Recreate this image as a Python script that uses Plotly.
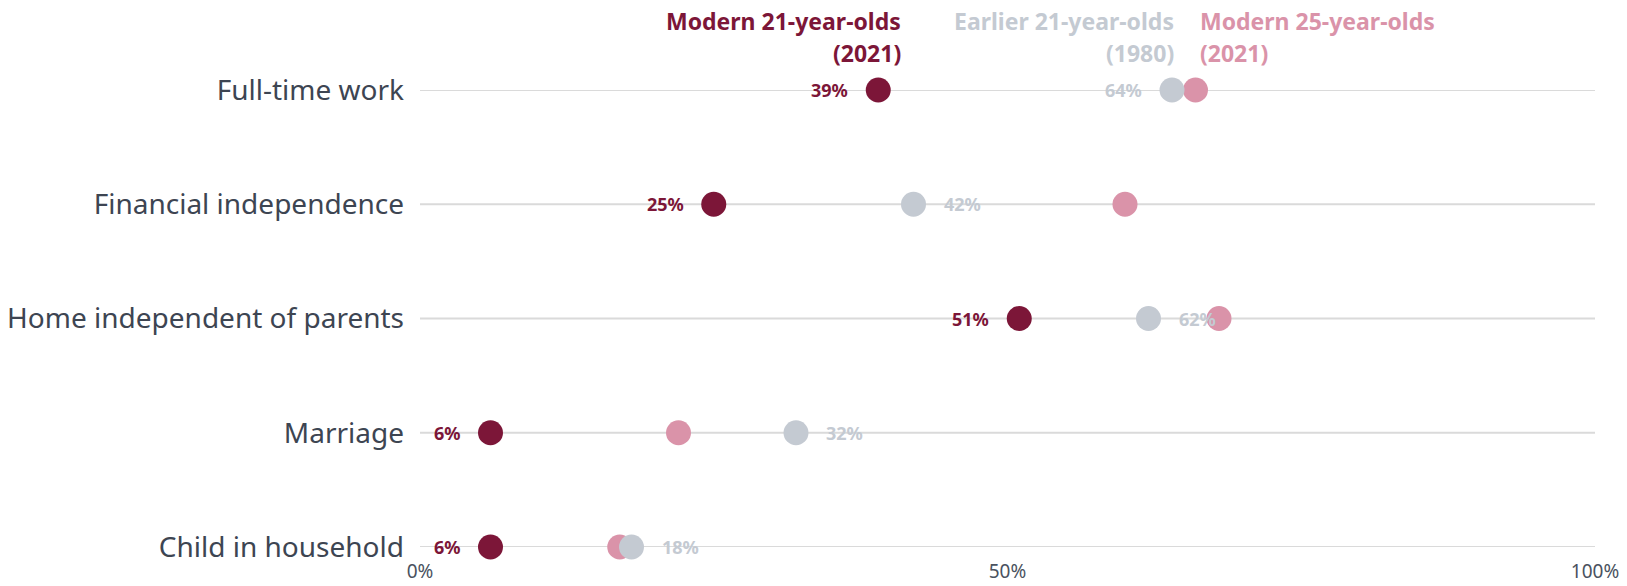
import plotly.graph_objects as go

# Milestones reached, share of each group (%)
milestones = ["Full-time work", "Financial independence", "Home independent of parents",
              "Marriage", "Child in household"]
modern_21 = [39, 25, 51, 6, 6]
earlier_21 = [64, 42, 62, 32, 18]
modern_25 = [66, 60, 68, 22, 17]

series_names = ["Modern 21-year-olds (2021)", "Earlier 21-year-olds (1980)", "Modern 25-year-olds (2021)"]
header_lines = [["Modern 21-year-olds", "(2021)"],
                ["Earlier 21-year-olds", "(1980)"],
                ["Modern 25-year-olds", "(2021)"]]

x_ticks = [0, 50, 100]
x_tick_text = ["0%", "50%", "100%"]

C_M21 = "#7c1638"
C_E21 = "#c4cad2"
C_M25 = "#da93a9"
FONT = "Noto Sans"

rows = list(range(len(milestones)))

fig = go.Figure()

# row guide lines across the full axis
shapes = [dict(type="line", xref="x", yref="y", x0=0, x1=100, y0=r, y1=r,
               line=dict(color="#dadada", width=2), layer="below") for r in rows]

for name, vals, col in [(series_names[2], modern_25, C_M25),
                        (series_names[1], earlier_21, C_E21),
                        (series_names[0], modern_21, C_M21)]:
    fig.add_trace(go.Scatter(
        x=vals, y=rows, mode="markers", name=name,
        marker=dict(size=25, color=col, line=dict(width=0)),
        cliponaxis=False, showlegend=False,
        hovertemplate="%{x}%<extra>" + name + "</extra>",
    ))

annotations = []
# value labels: modern 21 on the left of its dot
for i, v in enumerate(modern_21):
    annotations.append(dict(x=v, y=i, xref="x", yref="y", text=f"{v}%",
                            showarrow=False, xanchor="right", yanchor="middle",
                            xshift=-28, font=dict(family=FONT, size=18, color=C_M21,
                                                  weight="bold")))
# earlier 21 labels to the right, except the top row which sits to the left
for i, v in enumerate(earlier_21):
    left = i == 0
    annotations.append(dict(x=v, y=i, xref="x", yref="y", text=f"{v}%",
                            showarrow=False, xanchor="right" if left else "left",
                            yanchor="middle", xshift=-28 if left else 28,
                            font=dict(family=FONT, size=18, color=C_E21, weight="bold")))

# series headers above the top row
header_cfg = [(modern_21[0], C_M21, "right", 25),
              (earlier_21[0], C_E21, "right", 4),
              (modern_25[0], C_M25, "left", 2)]
for (xv, col, anchor, shift), lines in zip(header_cfg, header_lines):
    for line, ys in zip(lines, [69, 37]):
        annotations.append(dict(x=xv, y=1, xref="x", yref="paper", text=line,
                                showarrow=False, xanchor=anchor, yanchor="middle",
                                xshift=shift, yshift=ys,
                                font=dict(family=FONT, size=23, color=col, weight="bold")))

fig.update_layout(
    width=1627, height=586,
    margin=dict(l=420, r=32, t=90, b=39),
    paper_bgcolor="white", plot_bgcolor="white",
    font=dict(family=FONT),
    annotations=annotations,
    shapes=shapes,
    xaxis=dict(range=[0, 100], tickvals=x_ticks, ticktext=x_tick_text,
               showgrid=False, zeroline=False, showline=False, automargin=False,
               tickfont=dict(family=FONT, size=19, color="#4a5260"),
               ticks="", ticklabelstandoff=11),
    yaxis=dict(range=[len(milestones) - 1, 0], tickvals=rows, ticktext=milestones,
               showgrid=False, zeroline=False, showline=False, ticks="",
               automargin=False,
               tickfont=dict(family=FONT, size=28, color="#3d4552"),
               ticklabelstandoff=15),
)

fig.write_html("out.html")
